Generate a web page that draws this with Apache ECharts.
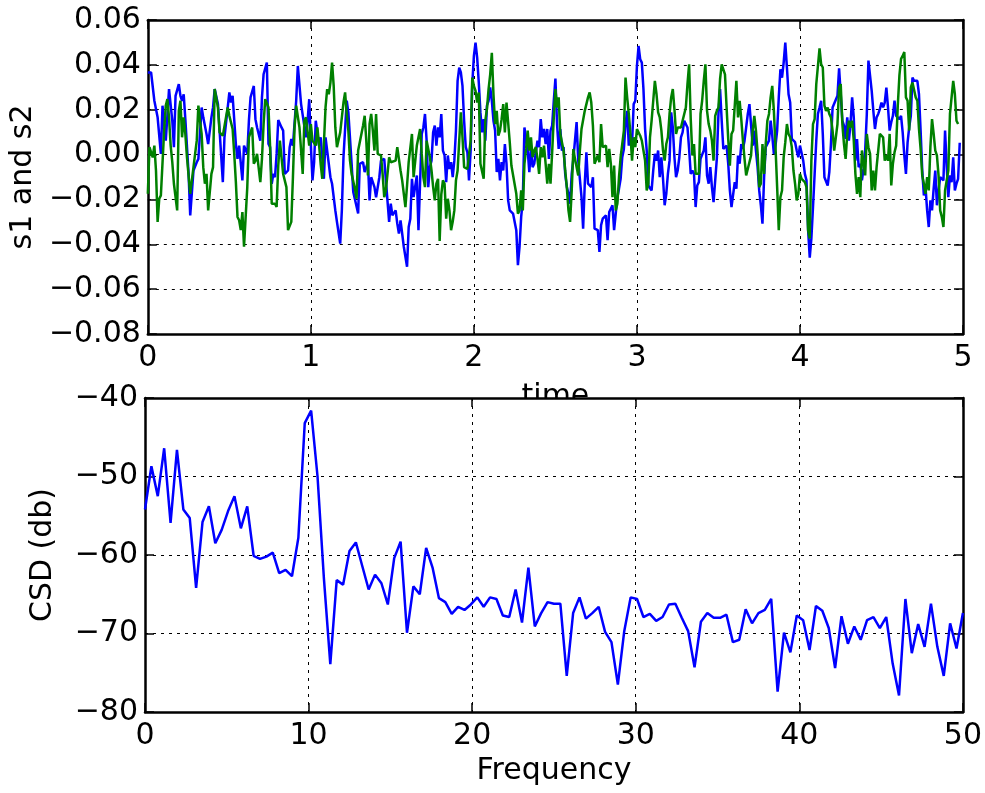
<!DOCTYPE html>
<html><head><meta charset="utf-8">
<script src="https://cdn.jsdelivr.net/npm/echarts@6/dist/echarts.min.js"></script>
<style>html,body{margin:0;padding:0;background:#fff}#c{width:985px;height:793px}</style>
</head><body><div id="c"></div>
<script>
// sample spacing of the time signals (s)
const DT = 0.01;
// s1: [sample index, value]
const s1 = [
[0,.0366],[2,.0366],[4,.0240],[6,.0166],[8,.0003],[9,.0218],[11,.0062],[12,.0173],[13,.0292],[15,.0151],
[16,.0033],[17,.0262],[19,.0314],[20,.0262],[21,.0240],[22,.0269],[23,.0158],[25,-.0086],[26,-.0271],[28,-.0071],
[30,-.0034],[31,-.0019],[33,.0210],[34,.0166],[36,.0092],[37,.0047],[39,.0166],[40,.0210],[41,.0292],[43,.0225],
[44,.0225],[46,-.0123],[47,.0077],[50,.0277],[51,.0232],[52,.0262],[54,.0047],[55,-.0019],[56,.0040],[58,-.0115],
[59,.0040],[60,.0047],[61,.0003],[62,.0151],[63,.0255],[65,.0306],[66,.0158],[67,.0121],[69,.0062],[70,.0255],
[71,.0358],[73,.0410],[74,.0047],[75,.0033],[76,-.0130],[77,-.0086],[78,-.0101],[79,.0003],[80,.0154],[82,.0121],
[83,.0107],[84,-.0086],[86,-.0071],[87,.0033],[88,.0070],[89,.0040],[91,.0240],[92,.0395],[94,.0225],[95,.0218],
[97,.0077],[98,.0151],[99,.0247],[100,.0040],[101,-.0115],[102,-.0034],[103,.0151],[105,.0040],[106,.0077],[108,-.0108],
[109,.0077],[110,.0077],[112,-.0101],[113,-.0130],[115,-.0249],[116,-.0300],[118,-.0397],[119,-.0249],[120,-.0012],[122,.0240],
[123,.0188],[125,-.0041],[126,-.0167],[127,-.0167],[129,-.0263],[130,-.0041],[132,-.0034],[133,-.0078],[135,-.0034],[136,-.0204],
[137,-.0101],[139,-.0145],[140,-.0190],[142,-.0101],[143,-.0027],[145,-.0019],[146,-.0027],[148,-.0300],[149,-.0219],[150,-.0271],
[152,-.0249],[153,-.0308],[154,-.0352],[155,-.0293],[156,-.0352],[157,-.0411],[159,-.0500],[160,-.0323],[161,-.0286],[162,-.0108],
[163,-.0190],[165,-.0093],[166,-.0337],[168,.0092],[169,.0121],[170,.0181],[171,.0062],[172,-.0145],[173,-.0056],[174,-.0027],
[175,.0099],[176,.0129],[177,.0040],[178,.0121],[179,.0077],[180,.0181],[181,.0018],[182,-.0004],[183,-.0123],[184,-.0004],
[185,-.0064],[186,-.0034],[187,-.0101],[188,-.0027],[189,.0107],[190,.0329],[191,.0388],[192,.0366],[193,.0306],[194,.0151],
[195,.0033],[196,.0010],[197,-.0115],[198,.0018],[199,.0314],[200,.0440],[201,.0499],[202,.0432],[203,.0321],[204,.0188],
[205,.0099],[206,.0158],[207,.0062],[208,.0218],[209,.0240],[210,.0299],[211,.0240],[212,.0151],[213,.0107],[214,-.0078],
[215,-.0019],[216,-.0115],[217,-.0034],[218,-.0071],[219,.0047],[220,-.0041],[221,-.0204],[222,-.0249],[223,-.0256],[224,-.0263],
[226,-.0337],[227,-.0493],[228,-.0411],[229,-.0278],[230,-.0204],[231,.0121],[232,.0129],[233,.0018],[234,-.0078],[235,.0033],
[236,-.0056],[237,-.0041],[238,-.0034],[239,.0062],[240,.0033],[241,.0158],[242,.0077],[243,.0114],[244,.0047],[245,.0114],
[246,-.0019],[247,.0107],[248,.0129],[249,.0240],[250,.0339],[251,.0136],[252,.0025],[253,.0114],[254,.0018],[255,.0033],
[256,-.0086],[257,-.0145],[258,-.0175],[259,-.0219],[260,-.0086],[261,-.0019],[262,-.0027],[263,.0145],[264,-.0027],[265,-.0034],
[266,-.0190],[267,-.0330],[268,-.0130],[269,.0010],[270,-.0130],[271,-.0123],[272,-.0145],[273,-.0101],[274,-.0330],[275,-.0337],
[276,-.0337],[277,-.0434],[278,-.0315],[279,-.0286],[281,-.0271],[282,-.0382],[283,-.0256],[284,-.0256],[285,-.0226],[286,-.0337],
[287,-.0263],[288,-.0190],[289,-.0152],[290,-.0108],[291,-.0012],[292,.0025],[293,.0136],[294,.0195],[295,.0040],[296,.0092],
[297,.0047],[298,.0225],[299,.0240],[300,.0395],[301,.0484],[302,.0425],[303,.0410],[304,.0292],[305,.0114],[306,.0018],
[307,-.0138],[308,-.0130],[309,-.0160],[310,-.0071],[311,.0003],[312,-.0027],[313,.0018],[314,-.0101],[315,-.0012],[316,-.0108],
[317,-.0226],[318,-.0175],[319,-.0086],[320,-.0027],[321,.0188],[322,.0121],[323,-.0012],[324,-.0101],[325,-.0071],[326,-.0012],
[327,.0077],[328,.0099],[329,.0151],[330,.0158],[331,.0121],[332,.0025],[333,-.0086],[334,-.0071],[335,-.0086],[336,-.0234],
[337,-.0138],[338,-.0123],[339,-.0019],[340,-.0012],[341,.0018],[342,.0077],[343,-.0093],[344,-.0130],[345,-.0056],[346,-.0145],
[347,-.0212],[348,-.0204],[349,-.0019],[350,.0181],[351,.0292],[352,.0151],[353,.0025],[355,.0040],[356,-.0041],[357,-.0160],
[358,-.0234],[359,-.0234],[360,-.0123],[361,-.0152],[362,-.0004],[363,-.0041],[364,.0047],[365,.0025],[366,.0062],[367,.0121],
[368,.0181],[369,.0225],[370,.0225],[371,.0040],[372,.0107],[373,.0018],[374,-.0056],[375,-.0160],[376,-.0226],[377,-.0308],
[378,-.0101],[379,.0033],[380,.0033],[381,.0062],[382,.0151],[383,.0084],[384,.0003],[385,.0040],[386,.0107],[387,.0255],
[388,.0380],[389,.0343],[390,.0410],[391,.0499],[392,.0388],[393,.0269],[394,.0232],[395,.0070],[396,.0077],[397,.0055],
[398,.0018],[399,-.0012],[400,.0040],[401,.0047],[402,-.0027],[403,-.0086],[404,-.0115],[405,-.0337],[406,-.0460],[407,-.0374],
[408,-.0234],[409,-.0086],[410,.0062],[411,.0181],[412,.0210],[413,.0240],[414,.0092],[415,-.0101],[416,-.0108],[417,-.0138],
[418,-.0078],[419,.0047],[420,.0210],[423,.0262],[424,.0385],[425,.0269],[426,.0151],[427,.0129],[428,.0070],[429,.0166],
[430,.0062],[431,.0136],[432,.0255],[433,.0166],[434,-.0027],[435,.0069],[436,-.0056],[437,-.0041],[438,-.0115],[439,-.0064],
[440,.0018],[441,.0181],[442,.0419],[443,.0419],[444,.0284],[445,.0195],[446,.0114],[447,.0166],[448,.0181],[449,.0203],
[450,.0232],[451,.0210],[452,.0232],[453,.0299],[454,.0210],[455,.0107],[456,.0144],[457,.0173],[458,.0240],[459,.0173],
[460,.0166],[461,.0158],[462,.0173],[463,.0099],[464,-.0004],[465,-.0086],[466,.0053],[467,.0121],[468,.0173],[469,.0343],
[470,.0329],[471,.0321],[472,.0329],[473,.0269],[474,.0107],[475,-.0071],[476,-.0182],[477,-.0145],[478,-.0249],[479,-.0323],
[480,-.0204],[481,-.0249],[482,-.0152],[483,-.0071],[484,-.0226],[485,-.0160],[486,-.0101],[487,-.0093],[488,-.0115],[489,.0107],
[490,-.0049],[491,-.0190],[492,-.0093],[493,-.0123],[494,-.0012],[495,-.0160],[496,-.0130],[497,-.0108],[498,.0053]
];
// s2: [sample index, value]
const s2 = [
[0,-.0175],[1,.0033],[3,-.0012],[4,.0040],[5,-.0071],[6,-.0300],[7,-.0197],[8,-.0182],[10,.0107],[11,.0218],
[12,.0247],[13,.0166],[14,.0040],[15,-.0034],[16,-.0130],[17,-.0138],[18,-.0249],[19,.0195],[20,.0240],[21,.0077],
[22,.0166],[23,.0092],[24,-.0012],[26,-.0175],[28,-.0056],[30,.0062],[31,.0218],[32,.0151],[33,.0092],[34,-.0056],
[35,-.0130],[36,-.0086],[37,-.0249],[39,-.0086],[40,-.0056],[41,.0292],[43,.0210],[44,.0099],[46,.0084],[47,.0092],
[49,.0210],[50,.0173],[52,.0114],[53,.0003],[54,-.0123],[55,-.0278],[56,-.0293],[57,-.0337],[58,-.0256],[59,-.0411],
[61,-.0145],[62,.0077],[64,.0121],[65,-.0041],[66,-.0027],[67,.0003],[69,-.0123],[70,-.0019],[71,.0136],[72,.0247],
[74,.0210],[75,.0033],[76,-.0219],[78,-.0219],[79,-.0234],[80,-.0049],[81,.0062],[82,.0070],[83,-.0086],[85,-.0145],
[86,-.0337],[88,-.0300],[89,-.0101],[90,.0121],[91,.0218],[93,.0121],[94,.0018],[95,-.0086],[96,.0151],[97,.0166],
[99,.0040],[100,.0136],[101,.0062],[103,.0040],[104,.0121],[105,.0047],[106,-.0041],[107,-.0108],[109,.0210],[110,.0292],
[111,.0269],[112,.0321],[113,.0410],[114,.0306],[115,.0121],[116,.0033],[118,.0099],[119,.0107],[120,.0232],[121,.0277],
[122,.0181],[123,.0107],[124,-.0027],[125,-.0086],[126,-.0093],[127,-.0152],[128,-.0197],[129,.0018],[130,.0025],[132,.0129],
[133,.0173],[134,.0062],[135,-.0093],[136,.0136],[137,.0181],[138,.0107],[139,.0018],[140,.0181],[141,.0003],[143,-.0004],
[144,-.0086],[145,-.0190],[146,-.0160],[148,-.0012],[149,-.0034],[150,-.0034],[152,-.0027],[153,.0033],[154,-.0019],[155,-.0071],
[156,-.0115],[158,-.0234],[159,-.0138],[160,-.0034],[162,.0092],[163,-.0101],[164,-.0108],[165,.0040],[166,.0047],[167,.0114],
[168,.0003],[169,-.0101],[170,-.0145],[171,.0062],[172,.0070],[173,-.0012],[174,-.0071],[175,-.0145],[176,-.0204],[177,-.0130],
[178,-.0108],[179,-.0385],[180,-.0178],[181,-.0115],[182,-.0130],[183,-.0286],[184,-.0197],[185,-.0249],[186,-.0337],[187,-.0300],
[188,-.0249],[189,-.0115],[190,-.0071],[191,.0062],[192,.0188],[193,.0077],[194,-.0056],[195,-.0064],[196,-.0064],[197,-.0056],
[198,.0062],[199,.0343],[200,.0306],[201,.0284],[202,.0232],[203,.0277],[204,-.0041],[205,-.0049],[206,-.0108],[207,.0151],
[208,.0203],[209,.0292],[210,.0358],[211,.0454],[212,.0269],[213,.0136],[214,.0195],[215,.0084],[216,.0107],[217,.0158],
[218,.0225],[219,.0099],[220,.0232],[221,.0144],[222,.0055],[223,-.0049],[224,-.0049],[226,-.0175],[227,-.0263],[228,-.0249],
[229,-.0160],[230,-.0249],[231,-.0041],[232,.0025],[233,.0107],[234,.0018],[235,.0077],[236,-.0012],[237,.0018],[238,.0033],
[239,-.0019],[240,-.0086],[241,.0033],[242,-.0012],[243,.0040],[244,-.0041],[245,-.0130],[246,-.0041],[247,-.0130],[248,.0010],
[249,.0166],[250,.0292],[251,.0210],[252,.0255],[253,.0092],[254,.0084],[255,.0018],[256,-.0071],[257,-.0145],[258,-.0249],
[259,-.0300],[260,-.0160],[261,.0025],[262,-.0019],[263,-.0027],[264,-.0093],[265,.0018],[266,.0114],[267,.0121],[268,.0195],
[269,.0225],[270,.0255],[271,.0277],[272,.0232],[273,.0129],[274,-.0041],[275,-.0049],[276,-.0004],[277,-.0034],[278,.0136],
[279,.0033],[281,.0040],[282,-.0056],[283,.0025],[284,-.0041],[285,-.0190],[286,-.0049],[287,-.0249],[288,-.0219],[289,-.0101],
[290,-.0012],[291,-.0004],[292,.0107],[293,.0343],[294,.0255],[295,.0181],[296,.0092],[297,-.0027],[298,.0077],[299,.0033],
[300,.0114],[301,.0121],[302,.0084],[303,.0062],[304,.0018],[305,-.0027],[306,-.0160],[307,-.0130],[308,.0077],[309,.0151],
[310,.0240],[311,.0329],[312,.0270],[313,.0188],[314,.0166],[315,.0107],[316,.0018],[317,-.0027],[318,.0047],[319,.0077],
[320,.0181],[321,.0255],[322,.0292],[323,.0203],[324,.0092],[325,.0121],[326,.0129],[327,.0121],[328,.0151],[329,.0158],
[330,.0210],[331,.0314],[332,.0402],[333,.0158],[334,-.0004],[335,.0047],[336,-.0086],[338,-.0086],[339,.0181],[340,.0240],
[341,.0329],[342,.0402],[343,.0195],[344,.0136],[345,.0107],[346,.0062],[347,-.0027],[348,.0173],[349,.0195],[350,.0210],
[351,.0337],[352,.0402],[354,.0358],[355,.0210],[356,.0069],[357,-.0050],[358,.0092],[359,.0107],[360,.0114],[361,.0329],
[362,.0166],[363,.0239],[364,.0158],[365,.0062],[366,-.0019],[367,-.0093],[368,-.0093],[369,-.0034],[370,-.0004],[371,.0107],
[372,.0173],[373,.0107],[374,.0010],[375,-.0145],[376,-.0130],[377,.0047],[378,-.0086],[379,.0047],[380,.0151],[381,.0181],
[382,.0255],[383,.0306],[384,.0195],[385,.0033],[386,-.0145],[387,-.0337],[388,-.0190],[389,-.0160],[390,-.0012],[391,.0055],
[392,.0136],[393,.0092],[394,.0077],[395,.0033],[396,-.0071],[397,-.0130],[398,-.0204],[399,-.0175],[400,-.0086],[401,-.0108],
[402,-.0108],[403,-.0123],[404,-.0145],[405,-.0337],[406,-.0374],[407,-.0027],[408,.0136],[409,.0158],[410,.0314],[411,.0321],
[412,.0474],[413,.0402],[414,.0388],[415,.0218],[416,.0195],[417,.0210],[418,.0181],[419,.0166],[420,.0107],[421,.0018],
[422,.0010],[423,.0136],[424,.0299],[425,.0314],[426,.0136],[427,.0047],[428,-.0019],[429,.0092],[430,.0151],[431,.0121],
[432,.0151],[433,.0062],[434,-.0086],[435,-.0175],[436,-.0101],[437,-.0190],[438,.0018],[439,.0018],[440,-.0093],[441,.0092],
[442,.0033],[443,.0003],[444,-.0160],[445,-.0071],[446,-.0160],[447,-.0056],[448,.0018],[449,.0092],[450,.0084],[451,.0077],
[452,-.0027],[453,-.0004],[454,-.0027],[455,.0092],[456,-.0138],[457,-.0041],[458,.0010],[459,.0040],[460,.0218],[461,.0353],
[462,.0427],[463,.0440],[464,.0457],[465,.0255],[466,.0240],[467,.0107],[468,.0299],[469,.0321],[470,.0329],[471,.0255],
[472,.0240],[473,.0114],[474,.0025],[475,-.0093],[476,-.0130],[477,-.0175],[478,-.0101],[479,-.0160],[480,.0033],[481,.0158],
[482,.0092],[483,.0018],[484,-.0004],[485,-.0093],[486,-.0249],[487,-.0278],[488,-.0323],[489,-.0160],[490,-.0115],[491,-.0071],
[492,.0181],[493,.0181],[494,.0329],[495,.0270],[496,.0151],[497,.0136]
];
// cross spectral density (dB), bins 0..NFFT/2
const FS = 100, NFFT = 256;
const csdDb = [
-54.2,-48.7,-52.5,-46.4,-55.9,-46.6,-54.2,-55.3,-64.2,-55.8,
-53.8,-58.5,-56.8,-54.4,-52.5,-56.6,-53.8,-60.1,-60.5,-60.2,
-59.7,-62.3,-61.9,-62.7,-57.8,-43.2,-41.6,-50.0,-63.0,-73.9,
-63.2,-63.8,-59.5,-58.4,-61.4,-64.4,-62.5,-63.6,-66.3,-60.4,
-58.3,-69.9,-64.0,-65.0,-59.1,-61.6,-65.5,-66.0,-67.5,-66.6,
-67.0,-66.3,-65.4,-66.6,-65.4,-65.6,-67.7,-67.9,-64.4,-68.6,
-61.6,-69.1,-67.4,-66.0,-66.2,-66.2,-75.4,-67.4,-65.4,-68.1,
-67.4,-66.6,-69.8,-71.1,-76.5,-69.7,-65.4,-65.6,-67.9,-67.5,
-68.4,-67.9,-66.3,-66.2,-68.0,-69.7,-74.3,-68.5,-67.4,-68.0,
-68.0,-67.6,-71.1,-70.8,-66.9,-68.7,-67.4,-67.0,-65.6,-77.4,
-69.9,-72.4,-67.7,-68.3,-72.1,-66.5,-67.1,-69.3,-74.4,-67.8,
-71.3,-69.1,-70.8,-68.3,-67.9,-69.3,-67.9,-73.8,-77.9,-65.6,
-72.5,-68.8,-71.7,-66.2,-71.7,-75.4,-68.7,-71.9,-67.4
];

const FONT = 'DejaVu Sans';
const MINUS = '\u2212';
const fmt2 = v => (v < -1e-9 ? MINUS : '') + Math.abs(v).toFixed(2);
const fmt0 = v => (v < -1e-9 ? MINUS : '') + Math.abs(Math.round(v));
const lbl = (fn, show) => ({show: show, color:'#000', fontFamily:FONT, fontSize:30, margin:9, formatter: fn});
const line = {show:true, onZero:false, lineStyle:{color:'#000', width:2.5}};
const tick = {show:true, inside:true, length:9, lineStyle:{color:'#000', width:1.5}};
const split = {show:true, showMinLine:false, showMaxLine:false, lineStyle:{color:'#000', width:1, type:[3,5]}};
const nameStyle = {color:'#000', fontFamily:FONT, fontSize:30};

function xAx(grid, pos, min, max, interval, main, name, gap, z) {
  return {type:'value', gridIndex:grid, position:pos, min:min, max:max, interval:interval,
    axisLine:line, axisTick:tick, axisLabel: lbl(fmt0, main),
    splitLine: main ? split : {show:false},
    name: main ? name : '', nameLocation:'middle', nameGap:gap, nameTextStyle:nameStyle, z:z};
}
function yAx(grid, pos, min, max, interval, main, name, gap, fn, z) {
  return {type:'value', gridIndex:grid, position:pos, min:min, max:max, interval:interval,
    axisLine:line, axisTick:tick, axisLabel: Object.assign(lbl(fn, main), {margin:7}),
    splitLine: main ? split : {show:false},
    name: main ? name : '', nameLocation:'middle', nameGap:gap, nameTextStyle:nameStyle, z:z};
}

const chart = echarts.init(document.getElementById('c'), null, {renderer:'canvas'});
chart.setOption({
  animation:false,
  backgroundColor:'#fff',
  grid:[
    {left:145, right:22, top:20, height:314},
    {left:145, right:22, top:398, height:314, show:true, backgroundColor:'#fff', borderWidth:0, borderColor:'transparent', z:1}
  ],
  xAxis:[
    xAx(0,'bottom',0,5,1,true,'time',48,0),
    xAx(0,'top',0,5,1,false,'',0,0),
    xAx(1,'bottom',0,50,10,true,'Frequency',44,2),
    xAx(1,'top',0,50,10,false,'',0,2)
  ],
  yAxis:[
    yAx(0,'left',-0.08,0.06,0.02,true,'s1 and s2',105,fmt2,0),
    yAx(0,'right',-0.08,0.06,0.02,false,'',0,fmt2,0),
    yAx(1,'left',-80,-40,10,true,'CSD (db)',87,fmt0,2),
    yAx(1,'right',-80,-40,10,false,'',0,fmt0,2)
  ],
  series:[
    {type:'line', xAxisIndex:0, yAxisIndex:0, showSymbol:false, z:2, color:'#0000ff',
     lineStyle:{color:'#0000ff', width:2.5}, data: s1.map(p => [p[0]*DT, p[1]])},
    {type:'line', xAxisIndex:0, yAxisIndex:0, showSymbol:false, z:2, color:'#008000',
     lineStyle:{color:'#008000', width:2.5}, data: s2.map(p => [p[0]*DT, p[1]])},
    {type:'line', xAxisIndex:2, yAxisIndex:2, showSymbol:false, z:3, color:'#0000ff',
     lineStyle:{color:'#0000ff', width:2.5}, data: csdDb.map((v,i) => [i*FS/NFFT, v])}
  ]
});
</script></body></html>
